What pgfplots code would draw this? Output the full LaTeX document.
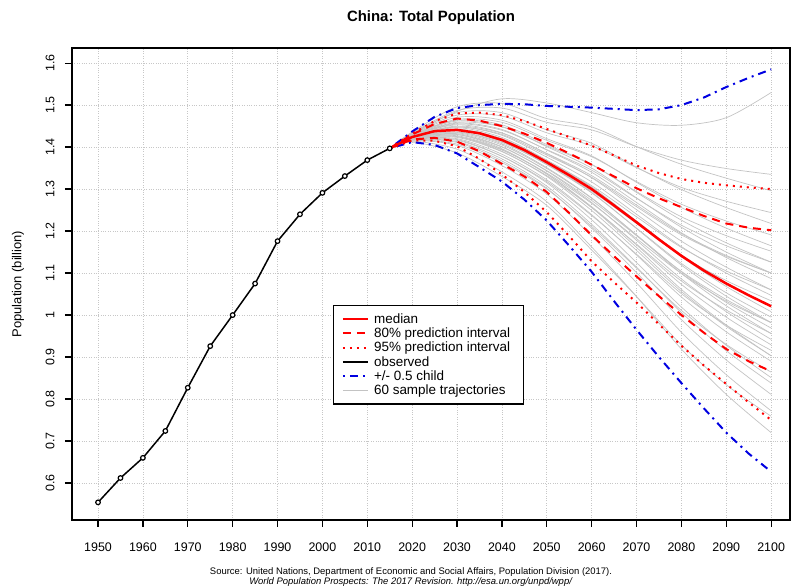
\documentclass[border=0pt]{standalone}
\usepackage{fontspec}
\setmainfont{Liberation Sans}
\usepackage{pgfplots}
\pgfplotsset{compat=1.18}
\definecolor{rred}{RGB}{255,0,0}
\definecolor{rblue}{RGB}{0,0,225}
\definecolor{trajgray}{RGB}{195,195,195}
\newcommand\traj[9]{\addplot[trajgray, line width=0.7bp, smooth, forget plot] coordinates {(2015,1.397)(2020,#1)(2030,#2)(2040,#3)(2050,#4)(2060,#5)(2070,#6)(2080,#7)(2090,#8)(2100,#9)};}
\begin{document}
\begin{tikzpicture}[x=1bp,y=1bp]
\path[use as bounding box] (0,0) rectangle (792,587);
\node[font=\bfseries\fontsize{15}{18}\selectfont] at (431,569) {China: Total Population};
\node[font=\fontsize{9.5}{10.5}\selectfont, align=center] at (411,10) {Source: United Nations, Department of Economic and Social Affairs, Population Division (2017).\\ \textit{World Population Prospects: The 2017 Revision. http://esa.un.org/unpd/wpp/}};
\begin{axis}[
  at={(72bp,67bp)}, anchor=south west,
  scale only axis, width=718bp, height=472bp,
  xmin=1944.2, xmax=2104.2, ymin=0.512, ymax=1.636,
  xtick={1950,1960,1970,1980,1990,2000,2010,2020,2030,2040,2050,2060,2070,2080,2090,2100},
  ytick={0.6,0.7,0.8,0.9,1,1.1,1.2,1.3,1.4,1.5,1.6},
  /pgf/number format/assume math mode=true,
  xticklabel style={/pgf/number format/1000 sep=, font=\fontsize{12.5}{14}\selectfont},
  yticklabel style={rotate=90, anchor=south, font=\fontsize{12.5}{14}\selectfont},
  xticklabel shift=12bp, yticklabel shift=7bp,
  tick align=outside, major tick length=7bp,
  xtick pos=bottom, ytick pos=left,
  tick style={black, line width=1.2bp},
  axis line style={line width=1.5bp},
  grid=major, major grid style={dotted, black!22, line width=0.8bp},
  ylabel={Population (billion)},
  ylabel style={at={(rel axis cs:-0.0752,0.5)}, anchor=center, font=\fontsize{13}{15}\selectfont},
  legend style={at={(rel axis cs:0.3635,0.4555)}, anchor=north west, draw=black, line width=1.2bp,
    font=\fontsize{13.5}{15}\selectfont, row sep=-1bp, inner xsep=8bp, inner ysep=6bp,
    nodes={inner xsep=5bp}},
  legend cell align=left,
  legend image code/.code={\draw[#1] (0bp,0bp) -- (25bp,0bp);},
]
\addlegendimage{rred, line width=2.5bp}
\addlegendentry{median}
\addlegendimage{rred, line width=2bp, dash pattern=on 8bp off 6bp}
\addlegendentry{80\% prediction interval}
\addlegendimage{rred, line width=2bp, dash pattern=on 2bp off 5bp}
\addlegendentry{95\% prediction interval}
\addlegendimage{black, line width=1.5bp}
\addlegendentry{observed}
\addlegendimage{rblue, line width=2bp, dash pattern=on 2bp off 5bp on 8bp off 5bp}
\addlegendentry{+/- 0.5 child}
\addlegendimage{trajgray, line width=1.5bp}
\addlegendentry{60 sample trajectories}
% sample trajectories
\traj{1.414}{1.395}{1.341}{1.270}{1.162}{1.044}{0.919}{0.811}{0.720}
\traj{1.416}{1.404}{1.356}{1.288}{1.188}{1.077}{0.959}{0.858}{0.772}
\traj{1.417}{1.407}{1.363}{1.300}{1.211}{1.112}{1.011}{0.930}{0.864}
\traj{1.418}{1.413}{1.372}{1.307}{1.216}{1.114}{1.006}{0.915}{0.838}
\traj{1.419}{1.418}{1.378}{1.315}{1.227}{1.125}{1.019}{0.928}{0.851}
\traj{1.419}{1.416}{1.378}{1.318}{1.237}{1.145}{1.051}{0.976}{0.916}
\traj{1.420}{1.420}{1.383}{1.322}{1.239}{1.143}{1.043}{0.960}{0.890}
\traj{1.421}{1.425}{1.390}{1.330}{1.249}{1.154}{1.056}{0.973}{0.903}
\traj{1.420}{1.423}{1.389}{1.332}{1.256}{1.169}{1.081}{1.012}{0.956}
\traj{1.421}{1.427}{1.394}{1.336}{1.258}{1.167}{1.073}{0.995}{0.929}
\traj{1.422}{1.432}{1.401}{1.343}{1.268}{1.178}{1.086}{1.008}{0.942}
\traj{1.422}{1.430}{1.400}{1.344}{1.273}{1.189}{1.104}{1.037}{0.982}
\traj{1.423}{1.434}{1.405}{1.349}{1.278}{1.191}{1.103}{1.030}{0.969}
\traj{1.423}{1.436}{1.408}{1.351}{1.279}{1.190}{1.099}{1.022}{0.956}
\traj{1.424}{1.439}{1.413}{1.358}{1.291}{1.207}{1.123}{1.053}{0.995}
\traj{1.424}{1.441}{1.415}{1.360}{1.292}{1.206}{1.119}{1.045}{0.982}
\traj{1.423}{1.436}{1.411}{1.359}{1.295}{1.218}{1.141}{1.082}{1.034}
\traj{1.425}{1.443}{1.420}{1.367}{1.304}{1.224}{1.143}{1.077}{1.021}
\traj{1.425}{1.446}{1.423}{1.369}{1.305}{1.222}{1.139}{1.068}{1.008}
\traj{1.424}{1.441}{1.419}{1.368}{1.308}{1.234}{1.161}{1.105}{1.060}
\traj{1.426}{1.448}{1.428}{1.376}{1.317}{1.240}{1.163}{1.100}{1.047}
\traj{1.426}{1.450}{1.433}{1.385}{1.332}{1.262}{1.194}{1.142}{1.100}
\traj{1.427}{1.453}{1.434}{1.384}{1.327}{1.251}{1.176}{1.114}{1.060}
\traj{1.427}{1.455}{1.440}{1.394}{1.345}{1.278}{1.214}{1.165}{1.126}
\traj{1.428}{1.457}{1.442}{1.393}{1.340}{1.268}{1.196}{1.137}{1.087}
\traj{1.428}{1.459}{1.448}{1.403}{1.358}{1.294}{1.234}{1.189}{1.152}
\traj{1.429}{1.464}{1.453}{1.406}{1.359}{1.292}{1.226}{1.172}{1.126}
\traj{1.430}{1.466}{1.459}{1.416}{1.377}{1.318}{1.264}{1.224}{1.191}
\traj{1.431}{1.471}{1.464}{1.420}{1.379}{1.316}{1.256}{1.207}{1.165}
\traj{1.432}{1.476}{1.474}{1.434}{1.403}{1.351}{1.304}{1.271}{1.244}
\traj{1.433}{1.482}{1.482}{1.441}{1.409}{1.352}{1.299}{1.256}{1.218}
\traj{1.434}{1.487}{1.493}{1.459}{1.441}{1.401}{1.369}{1.349}{1.335}
\traj{1.432}{1.485}{1.515}{1.505}{1.482}{1.458}{1.452}{1.470}{1.530}
\traj{1.422}{1.430}{1.396}{1.336}{1.256}{1.161}{1.061}{0.976}{0.903}
\traj{1.426}{1.448}{1.430}{1.381}{1.328}{1.258}{1.191}{1.140}{1.100}
\traj{1.418}{1.411}{1.367}{1.302}{1.207}{1.101}{0.989}{0.893}{0.811}
\traj{1.429}{1.462}{1.449}{1.401}{1.350}{1.279}{1.209}{1.150}{1.100}
\traj{1.421}{1.425}{1.393}{1.338}{1.266}{1.182}{1.099}{1.033}{0.982}
\traj{1.436}{1.496}{1.504}{1.468}{1.448}{1.401}{1.359}{1.326}{1.296}
\traj{1.412}{1.386}{1.330}{1.261}{1.155}{1.044}{0.929}{0.834}{0.759}
% +/- 0.5 child
\addplot[rblue, line width=2bp, dash pattern=on 2bp off 5bp on 8bp off 5bp, forget plot] coordinates {
(2015,1.397)(2020,1.437)(2025,1.472)(2030,1.493)(2035,1.500)(2040,1.503)(2045,1.502)(2050,1.498)(2055,1.496)(2060,1.494)(2065,1.491)(2070,1.488)(2075,1.490)(2080,1.500)(2085,1.518)(2090,1.543)(2095,1.565)(2100,1.585)};
\addplot[rblue, line width=2bp, dash pattern=on 2bp off 5bp on 8bp off 5bp, forget plot] coordinates {
(2015,1.397)(2020,1.412)(2025,1.405)(2030,1.385)(2035,1.352)(2040,1.318)(2045,1.275)(2050,1.225)(2055,1.165)(2060,1.103)(2065,1.033)(2070,0.965)(2075,0.900)(2080,0.838)(2085,0.778)(2090,0.720)(2095,0.670)(2100,0.627)};
% 95% interval
\addplot[rred, line width=2bp, dash pattern=on 2bp off 5bp, forget plot] coordinates {
(2015,1.397)(2020,1.432)(2025,1.462)(2030,1.480)(2035,1.482)(2040,1.476)(2045,1.462)(2050,1.443)(2055,1.424)(2060,1.403)(2065,1.380)(2070,1.356)(2075,1.338)(2080,1.324)(2085,1.315)(2090,1.309)(2095,1.304)(2100,1.300)};
\addplot[rred, line width=2bp, dash pattern=on 2bp off 5bp, forget plot] coordinates {
(2015,1.397)(2020,1.416)(2025,1.415)(2030,1.402)(2035,1.372)(2040,1.335)(2045,1.293)(2050,1.245)(2055,1.188)(2060,1.128)(2065,1.078)(2070,1.030)(2075,0.978)(2080,0.927)(2085,0.880)(2090,0.836)(2095,0.792)(2100,0.750)};
% 80% interval
\addplot[rred, line width=2bp, dash pattern=on 8bp off 6bp, forget plot] coordinates {
(2015,1.397)(2020,1.430)(2025,1.455)(2030,1.468)(2035,1.463)(2040,1.450)(2045,1.432)(2050,1.410)(2055,1.385)(2060,1.358)(2065,1.330)(2070,1.302)(2075,1.278)(2080,1.257)(2085,1.236)(2090,1.218)(2095,1.208)(2100,1.202)};
\addplot[rred, line width=2bp, dash pattern=on 8bp off 6bp, forget plot] coordinates {
(2015,1.397)(2020,1.418)(2025,1.422)(2030,1.413)(2035,1.390)(2040,1.360)(2045,1.330)(2050,1.293)(2055,1.243)(2060,1.190)(2065,1.140)(2070,1.092)(2075,1.045)(2080,1.000)(2085,0.958)(2090,0.919)(2095,0.890)(2100,0.866)};
% median
\addplot[rred, line width=2.5bp, forget plot] coordinates {
(2015,1.397)(2020,1.424)(2025,1.438)(2030,1.441)(2035,1.433)(2040,1.417)(2045,1.393)(2050,1.364)(2055,1.333)(2060,1.300)(2065,1.261)(2070,1.221)(2075,1.180)(2080,1.141)(2085,1.106)(2090,1.075)(2095,1.047)(2100,1.021)};
% observed
\addplot[black, line width=1.5bp, mark=*, mark size=2.3bp, mark options={fill=white, draw=black, line width=1.2bp, solid}, forget plot] coordinates {
(1950,0.554)(1955,0.612)(1960,0.660)(1965,0.724)(1970,0.827)(1975,0.926)(1980,1.000)(1985,1.075)(1990,1.176)(1995,1.240)(2000,1.291)(2005,1.331)(2010,1.369)(2015,1.397)};
\end{axis}
\end{tikzpicture}
\end{document}
